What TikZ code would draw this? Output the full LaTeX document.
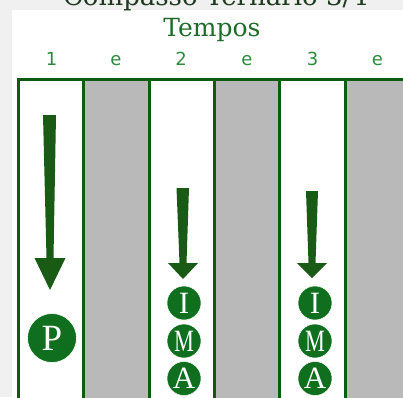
\documentclass[tikz,border=0pt]{standalone}
\usepackage{fontspec}
\setmainfont{Liberation Serif}
\newfontfamily\dvserif{DejaVu Serif}
\newfontfamily\dvsans{DejaVu Sans}
\definecolor{bggray}{HTML}{F0F0F0}
\definecolor{colgray}{HTML}{B9B9B9}
\definecolor{framegreen}{HTML}{0D5C12}
\definecolor{arrowgreen}{HTML}{195B15}
\definecolor{circgreen}{HTML}{0F6F1F}
\definecolor{titlegreen}{HTML}{1E3A1E}
\definecolor{tempogreen}{HTML}{1F6B2A}
\definecolor{beatgreen}{HTML}{2E8B3E}
\tikzset{
  titletext/.style={anchor=base, text=titlegreen, font=\dvserif\fontsize{26}{26}\selectfont, inner sep=0},
  tempotext/.style={anchor=base, text=tempogreen, font=\dvserif\fontsize{25}{25}\selectfont, inner sep=0},
  beattext/.style={anchor=base, text=beatgreen, font=\dvsans\fontsize{18}{18}\selectfont, inner sep=0},
  framestroke/.style={draw=framegreen, line width=3pt},
  bigarrow/.style={fill=arrowgreen},
  bigcirc/.style={circle, fill=circgreen, draw=white, line width=0.6pt, minimum size=49pt, inner sep=0pt, text=white, font=\fontsize{37}{37}\selectfont},
  smallcirc/.style={circle, fill=circgreen, draw=white, line width=0.5pt, minimum size=34pt, inner sep=0pt, text=white, font=\fontsize{31}{31}\selectfont}
}
\begin{document}
\begin{tikzpicture}[x=1pt,y=-1pt]
\useasboundingbox (0,0) rectangle (403,397);
\fill[bggray] (0,0) rectangle (403,397);
\fill[white] (12,10) rectangle (403,397);
% gray columns
\foreach \i in {1,3,5} {
  \fill[colgray] ({18.5+65.3*\i},79.5) rectangle ({18.5+65.3*(\i+1)},400);
}
% frame
\draw[framestroke] (18.5,400) -- (18.5,79.5) -- (410,79.5);
\foreach \i in {1,...,5} {
  \draw[framestroke] ({18.5+65.3*\i},79.5) -- ({18.5+65.3*\i},400);
}
% texts
\node[titletext] (title) at (215.5,5) {Compasso Ternário 3/4};
\node[tempotext] (tempos) at (212,36) {Tempos};
\node[beattext] (b1) at (51.5,65.5) {1};
\node[beattext] (b2) at (116,65.5) {e};
\node[beattext] (b3) at (181,65.5) {2};
\node[beattext] (b4) at (247,65.5) {e};
\node[beattext] (b5) at (312.5,65.5) {3};
\node[beattext] (b6) at (377.5,65.5) {e};
% arrows
\fill[bigarrow] (43,115) -- (56,115) -- (53.5,258) -- (65.5,258) -- (50,290) -- (34.5,258) -- (46.5,258) -- cycle;
\fill[bigarrow] (176.5,188) -- (189,188) -- (186.5,263) -- (198,263) -- (183,279) -- (168,263) -- (179.5,263) -- cycle;
\fill[bigarrow] (306,191) -- (318,191) -- (315.5,263) -- (327,263) -- (312,278) -- (297,263) -- (308.5,263) -- cycle;
% circles
\node[bigcirc] (p1) at (52,338) {P};
\node[smallcirc] (i2) at (184,303) {I};
\node[smallcirc] (m2) at (184,341) {\scalebox{0.72}[1]{M}};
\node[smallcirc] (a2) at (184,378.5) {A};
\node[smallcirc] (i3) at (315,303) {I};
\node[smallcirc] (m3) at (315,341) {\scalebox{0.72}[1]{M}};
\node[smallcirc] (a3) at (315,378.5) {A};
\end{tikzpicture}
\end{document}
